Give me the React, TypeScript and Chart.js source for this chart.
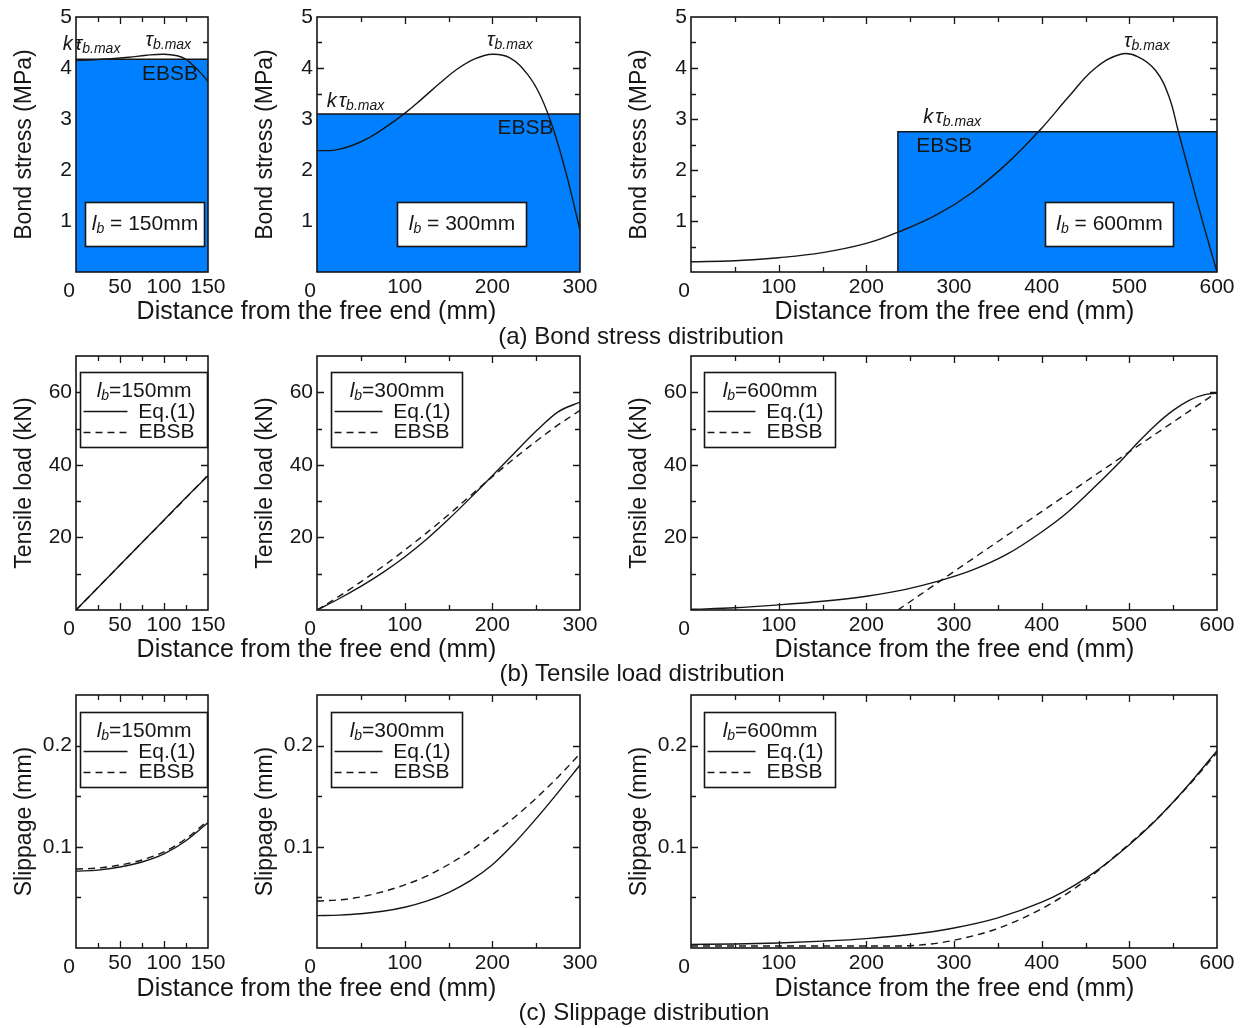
import React, { useEffect, useRef } from "react";
import { Chart, registerables } from "chart.js";
Chart.register(...registerables);

const FONT = '"Liberation Sans", Arial, Helvetica, sans-serif';
const INK = "#161616";
const BLUE = "#0080ff";

// ---------- tick labels and tick marks ----------
const X_LABELS_150 = [50, 100, 150];
const X_TICKS_150 = [25, 50, 75, 100, 125];
const X_LABELS_300 = [100, 200, 300];
const X_TICKS_300 = [50, 100, 150, 200, 250];
const X_LABELS_600 = [100, 200, 300, 400, 500, 600];
const X_TICKS_600 = [50, 100, 150, 200, 250, 300, 350, 400, 450, 500, 550];
const Y_LABELS_STRESS = [1, 2, 3, 4, 5];
const Y_TICKS_STRESS = [0.5, 1, 1.5, 2, 2.5, 3, 3.5, 4, 4.5];
const Y_LABELS_LOAD = [20, 40, 60];
const Y_TICKS_LOAD = [10, 20, 30, 40, 50, 60];
const Y_LABELS_SLIP = [0.1, 0.2];
const Y_TICKS_SLIP = [0.05, 0.1, 0.15, 0.2];

// ---------- (a) bond stress ----------
const STRESS_X_150 = [0, 20, 40, 60, 80, 100, 115, 125, 135, 143, 150];
const STRESS_EQ_150 = [4.15, 4.16, 4.18, 4.21, 4.25, 4.27, 4.24, 4.17, 4.02, 3.88, 3.73];
const EBSB_STRESS_X_150 = [0, 150];
const EBSB_STRESS_150 = [4.17, 4.17];

const STRESS_X_300 = [0, 20, 40, 60, 80, 100, 120, 140, 160, 180, 200, 220, 240, 255, 270, 285, 300];
const STRESS_EQ_300 = [2.38, 2.39, 2.48, 2.64, 2.86, 3.11, 3.4, 3.7, 3.98, 4.18, 4.27, 4.2, 3.88, 3.45, 2.78, 1.88, 0.82];
const EBSB_STRESS_X_300 = [0, 300];
const EBSB_STRESS_300 = [3.1, 3.1];

const STRESS_X_600 = [0, 50, 100, 150, 200, 236, 280, 320, 360, 400, 430, 460, 490, 510, 530, 545, 556, 570, 585, 600];
const STRESS_EQ_600 = [0.2, 0.22, 0.28, 0.38, 0.56, 0.78, 1.12, 1.55, 2.12, 2.82, 3.42, 3.98, 4.27, 4.22, 3.95, 3.45, 2.75, 1.85, 0.9, 0.0];
const EBSB_STRESS_X_600 = [236, 236, 600];
const EBSB_STRESS_600 = [0, 2.75, 2.75];

// ---------- (b) tensile load ----------
const LOAD_X_150 = [0, 25, 50, 75, 100, 125, 150];
const LOAD_EQ_150 = [0, 6.2, 12.4, 18.6, 24.8, 31.0, 37.0];
const LOAD_EBSB_150 = [0, 6.2, 12.4, 18.6, 24.7, 30.9, 37.2];

const LOAD_X_300 = [0, 25, 50, 75, 100, 125, 150, 175, 200, 225, 250, 275, 300];
const LOAD_EQ_300 = [0, 3.1, 6.5, 10.3, 14.6, 19.5, 25.0, 30.9, 37.0, 43.2, 49.3, 54.6, 57.3];
const LOAD_EBSB_300 = [0, 3.75, 7.75, 12.0, 16.5, 21.25, 26.25, 31.5, 36.75, 41.75, 46.5, 51.0, 55.0];

const LOAD_X_600 = [0, 50, 100, 150, 200, 245, 280, 320, 360, 400, 430, 460, 490, 510, 530, 550, 570, 585, 600];
const LOAD_EQ_600 = [0.2, 0.6, 1.4, 2.4, 3.8, 5.7, 7.8, 10.9, 15.3, 21.5, 27.0, 33.8, 41.0, 46.2, 51.0, 55.0, 58.0, 59.3, 59.8];
const LOAD_EBSB_X_600 = [236, 300, 400, 500, 600];
const LOAD_EBSB_600 = [0, 10.6, 27.1, 43.6, 60];

// ---------- (c) slippage ----------
const SLIP_X_150 = [0, 25, 50, 75, 100, 125, 150];
const SLIP_EQ_150 = [0.076, 0.077, 0.08, 0.085, 0.093, 0.106, 0.124];
const SLIP_EBSB_150 = [0.078, 0.079, 0.082, 0.087, 0.095, 0.108, 0.126];

const SLIP_X_300 = [0, 25, 50, 75, 100, 125, 150, 175, 200, 225, 250, 275, 300];
const SLIP_EQ_300 = [0.032, 0.0325, 0.0338, 0.0363, 0.0403, 0.0463, 0.0548, 0.0665, 0.0823, 0.1035, 0.1278, 0.1538, 0.1808];
const SLIP_EBSB_300 = [0.0465, 0.0475, 0.0505, 0.0556, 0.0623, 0.071, 0.0825, 0.096, 0.112, 0.129, 0.148, 0.169, 0.192];

const SLIP_X_600 = [0, 50, 100, 150, 200, 250, 300, 350, 400, 425, 450, 475, 500, 525, 550, 575, 600];
const SLIP_EQ_600 = [0.0035, 0.004, 0.005, 0.0068, 0.0093, 0.0133, 0.0198, 0.0298, 0.0453, 0.0558, 0.0688, 0.0843, 0.102, 0.1218, 0.1443, 0.1688, 0.195];
const SLIP_EBSB_X_600 = [0, 236, 260, 283, 302, 349, 396, 424, 452, 480, 532, 565, 600];
const SLIP_EBSB_600 = [0.002, 0.002, 0.0028, 0.005, 0.008, 0.019, 0.037, 0.051, 0.068, 0.088, 0.128, 0.158, 0.193];

// ---------- layout ----------
const ROW_T = [17, 356, 695];
const ROW_B = [272, 610, 948];
const COL_L = [76, 317, 691];
const COL_R = [208, 580, 1217];

type Series = { xs: number[]; ys: number[]; dashed?: boolean };
type Anno = { kind: "ktau" | "tau" | "ebsb"; x: number; y: number };
type LbBox = { x0: number; x1: number; y0: number; y1: number; lb: string };
type Legend = { dx: number; dy: number; w: number; h: number; lb: string };
type PanelCfg = {
  row: number;
  col: number;
  xMax: number;
  yMax: number;
  xLabels: number[];
  xTicks: number[];
  yLabels: number[];
  yTicks: number[];
  yTitle: string;
  dec: boolean;
  monotone: boolean;
  rect?: Series;
  series: Series[];
  annos?: Anno[];
  box?: LbBox;
  legend?: Legend;
};

const XL = [X_LABELS_150, X_LABELS_300, X_LABELS_600];
const XT = [X_TICKS_150, X_TICKS_300, X_TICKS_600];

const PANELS: PanelCfg[] = [
  {
    row: 0, col: 0, xMax: 150, yMax: 5, xLabels: XL[0], xTicks: XT[0], monotone: false,
    yLabels: Y_LABELS_STRESS, yTicks: Y_TICKS_STRESS, yTitle: "Bond stress (MPa)", dec: false,
    rect: { xs: EBSB_STRESS_X_150, ys: EBSB_STRESS_150 },
    series: [{ xs: STRESS_X_150, ys: STRESS_EQ_150 }],
    annos: [
      { kind: "ktau", x: -15, y: 4.47 },
      { kind: "tau", x: 79, y: 4.55 },
      { kind: "ebsb", x: 75, y: 3.88 },
    ],
    box: { x0: 10, x1: 146, y0: 0.51, y1: 1.37, lb: "150mm" },
  },
  {
    row: 0, col: 1, xMax: 300, yMax: 5, xLabels: XL[1], xTicks: XT[1], monotone: false,
    yLabels: Y_LABELS_STRESS, yTicks: Y_TICKS_STRESS, yTitle: "Bond stress (MPa)", dec: false,
    rect: { xs: EBSB_STRESS_X_300, ys: EBSB_STRESS_300 },
    series: [{ xs: STRESS_X_300, ys: STRESS_EQ_300 }],
    annos: [
      { kind: "ktau", x: 11, y: 3.35 },
      { kind: "tau", x: 194, y: 4.55 },
      { kind: "ebsb", x: 206, y: 2.82 },
    ],
    box: { x0: 91, x1: 238, y0: 0.51, y1: 1.37, lb: "300mm" },
  },
  {
    row: 0, col: 2, xMax: 600, yMax: 5, xLabels: XL[2], xTicks: XT[2], monotone: false,
    yLabels: Y_LABELS_STRESS, yTicks: Y_TICKS_STRESS, yTitle: "Bond stress (MPa)", dec: false,
    rect: { xs: EBSB_STRESS_X_600, ys: EBSB_STRESS_600 },
    series: [{ xs: STRESS_X_600, ys: STRESS_EQ_600 }],
    annos: [
      { kind: "ktau", x: 265, y: 3.04 },
      { kind: "tau", x: 494, y: 4.53 },
      { kind: "ebsb", x: 257, y: 2.47 },
    ],
    box: { x0: 404, x1: 550, y0: 0.51, y1: 1.37, lb: "600mm" },
  },
  {
    row: 1, col: 0, xMax: 150, yMax: 70, xLabels: XL[0], xTicks: XT[0], monotone: true,
    yLabels: Y_LABELS_LOAD, yTicks: Y_TICKS_LOAD, yTitle: "Tensile load (kN)", dec: false,
    series: [
      { xs: LOAD_X_150, ys: LOAD_EQ_150 },
      { xs: LOAD_X_150, ys: LOAD_EBSB_150, dashed: true },
    ],
    legend: { dx: 4, dy: 16, w: 127, h: 75, lb: "=150mm" },
  },
  {
    row: 1, col: 1, xMax: 300, yMax: 70, xLabels: XL[1], xTicks: XT[1], monotone: true,
    yLabels: Y_LABELS_LOAD, yTicks: Y_TICKS_LOAD, yTitle: "Tensile load (kN)", dec: false,
    series: [
      { xs: LOAD_X_300, ys: LOAD_EQ_300 },
      { xs: LOAD_X_300, ys: LOAD_EBSB_300, dashed: true },
    ],
    legend: { dx: 14, dy: 16, w: 131, h: 75, lb: "=300mm" },
  },
  {
    row: 1, col: 2, xMax: 600, yMax: 70, xLabels: XL[2], xTicks: XT[2], monotone: true,
    yLabels: Y_LABELS_LOAD, yTicks: Y_TICKS_LOAD, yTitle: "Tensile load (kN)", dec: false,
    series: [
      { xs: LOAD_X_600, ys: LOAD_EQ_600 },
      { xs: LOAD_EBSB_X_600, ys: LOAD_EBSB_600, dashed: true },
    ],
    legend: { dx: 13, dy: 16, w: 131, h: 75, lb: "=600mm" },
  },
  {
    row: 2, col: 0, xMax: 150, yMax: 0.25, xLabels: XL[0], xTicks: XT[0], monotone: true,
    yLabels: Y_LABELS_SLIP, yTicks: Y_TICKS_SLIP, yTitle: "Slippage (mm)", dec: true,
    series: [
      { xs: SLIP_X_150, ys: SLIP_EQ_150 },
      { xs: SLIP_X_150, ys: SLIP_EBSB_150, dashed: true },
    ],
    legend: { dx: 4, dy: 17, w: 127, h: 75, lb: "=150mm" },
  },
  {
    row: 2, col: 1, xMax: 300, yMax: 0.25, xLabels: XL[1], xTicks: XT[1], monotone: true,
    yLabels: Y_LABELS_SLIP, yTicks: Y_TICKS_SLIP, yTitle: "Slippage (mm)", dec: true,
    series: [
      { xs: SLIP_X_300, ys: SLIP_EQ_300 },
      { xs: SLIP_X_300, ys: SLIP_EBSB_300, dashed: true },
    ],
    legend: { dx: 14, dy: 17, w: 131, h: 75, lb: "=300mm" },
  },
  {
    row: 2, col: 2, xMax: 600, yMax: 0.25, xLabels: XL[2], xTicks: XT[2], monotone: true,
    yLabels: Y_LABELS_SLIP, yTicks: Y_TICKS_SLIP, yTitle: "Slippage (mm)", dec: true,
    series: [
      { xs: SLIP_X_600, ys: SLIP_EQ_600 },
      { xs: SLIP_EBSB_X_600, ys: SLIP_EBSB_600, dashed: true },
    ],
    legend: { dx: 13, dy: 17, w: 131, h: 75, lb: "=600mm" },
  },
];

const PAD_L = 70;
const PAD_T = 20;
const PAD_R = 24;
const PAD_B = 32;
const DASH = [7, 5];

type Part = { t: string; italic?: boolean; size: number; dy?: number; gap?: number };

function drawParts(ctx: CanvasRenderingContext2D, parts: Part[], x: number, y: number, align: "left" | "center" | "right") {
  let total = 0;
  const widths = parts.map((p) => {
    ctx.font = `${p.italic ? "italic " : ""}${p.size}px ${FONT}`;
    const w = ctx.measureText(p.t).width + (p.gap || 0);
    total += w;
    return w;
  });
  let cx = align === "left" ? x : align === "center" ? x - total / 2 : x - total;
  ctx.textAlign = "left";
  ctx.textBaseline = "middle";
  ctx.fillStyle = INK;
  parts.forEach((p, i) => {
    ctx.font = `${p.italic ? "italic " : ""}${p.size}px ${FONT}`;
    ctx.fillText(p.t, cx, y + (p.dy || 0));
    cx += widths[i];
  });
}

function makeFrame(p: PanelCfg) {
  return {
    id: "frame",
    beforeDatasetsDraw(chart: any) {
      const { ctx, chartArea: a, scales } = chart;
      const xs = scales.x;
      const ys = scales.y;
      ctx.save();
      ctx.strokeStyle = INK;
      ctx.lineWidth = 1.3;
      ctx.beginPath();
      for (const v of p.xTicks) {
        const px = Math.round(xs.getPixelForValue(v)) + 0.5;
        const len = p.xLabels.includes(v) ? 7 : 5;
        ctx.moveTo(px, a.bottom);
        ctx.lineTo(px, a.bottom - len);
        ctx.moveTo(px, a.top);
        ctx.lineTo(px, a.top + len);
      }
      for (const v of p.yTicks) {
        const py = Math.round(ys.getPixelForValue(v)) + 0.5;
        const len = p.yLabels.some((l) => Math.abs(l - v) < 1e-9) ? 7 : 5;
        ctx.moveTo(a.left, py);
        ctx.lineTo(a.left + len, py);
        ctx.moveTo(a.right, py);
        ctx.lineTo(a.right - len, py);
      }
      ctx.stroke();
      ctx.restore();
    },
    afterDatasetsDraw(chart: any) {
      const { ctx, chartArea: a, scales } = chart;
      const xs = scales.x;
      const ys = scales.y;
      ctx.save();
      ctx.strokeStyle = INK;
      ctx.lineWidth = 1.6;
      ctx.strokeRect(a.left, a.top, a.right - a.left, a.bottom - a.top);
      ctx.fillStyle = INK;
      ctx.font = `21px ${FONT}`;
      ctx.textAlign = "center";
      ctx.textBaseline = "middle";
      ctx.fillText("0", a.left - 7, a.bottom + 19);
      for (const an of p.annos || []) {
        const px = xs.getPixelForValue(an.x);
        const py = ys.getPixelForValue(an.y);
        if (an.kind === "ktau") {
          drawParts(ctx, [
            { t: "k", italic: true, size: 20, gap: 2 },
            { t: "τ", italic: true, size: 20 },
            { t: "b.max", italic: true, size: 14, dy: 5 },
          ], px, py, "left");
        } else if (an.kind === "tau") {
          drawParts(ctx, [
            { t: "τ", italic: true, size: 20 },
            { t: "b.max", italic: true, size: 14, dy: 5 },
          ], px, py, "left");
        } else {
          drawParts(ctx, [{ t: "EBSB", size: 21 }], px, py, "left");
        }
      }
      if (p.box) {
        const bx0 = Math.round(xs.getPixelForValue(p.box.x0)) + 0.5;
        const bx1 = Math.round(xs.getPixelForValue(p.box.x1)) + 0.5;
        const by0 = Math.round(ys.getPixelForValue(p.box.y1)) + 0.5;
        const by1 = Math.round(ys.getPixelForValue(p.box.y0)) + 0.5;
        ctx.fillStyle = "#ffffff";
        ctx.fillRect(bx0, by0, bx1 - bx0, by1 - by0);
        ctx.strokeStyle = INK;
        ctx.lineWidth = 1.6;
        ctx.strokeRect(bx0, by0, bx1 - bx0, by1 - by0);
        drawParts(ctx, [
          { t: "l", italic: true, size: 21 },
          { t: "b", italic: true, size: 14, dy: 5 },
          { t: " = " + p.box.lb, size: 21 },
        ], (bx0 + bx1) / 2, (by0 + by1) / 2, "center");
      }
      if (p.legend) {
        const lg = p.legend;
        const L = a.left + lg.dx + 0.5;
        const T = a.top + lg.dy + 0.5;
        ctx.fillStyle = "#ffffff";
        ctx.fillRect(L, T, lg.w, lg.h);
        ctx.strokeStyle = INK;
        ctx.lineWidth = 1.6;
        ctx.strokeRect(L, T, lg.w, lg.h);
        drawParts(ctx, [
          { t: "l", italic: true, size: 21 },
          { t: "b", italic: true, size: 14, dy: 5 },
          { t: lg.lb, size: 21 },
        ], L + lg.w / 2, T + 19, "center");
        const lx0 = L + 3;
        const lx1 = L + lg.w - 80;
        ctx.lineWidth = 1.4;
        ctx.beginPath();
        ctx.setLineDash([]);
        ctx.moveTo(lx0, T + 39);
        ctx.lineTo(lx1, T + 39);
        ctx.stroke();
        ctx.beginPath();
        ctx.setLineDash(DASH);
        ctx.moveTo(lx0, T + 60);
        ctx.lineTo(lx1, T + 60);
        ctx.stroke();
        ctx.setLineDash([]);
        drawParts(ctx, [{ t: "Eq.(1)", size: 21 }], L + lg.w - 12, T + 40, "right");
        drawParts(ctx, [{ t: "EBSB", size: 21 }], L + lg.w - 13, T + 60, "right");
      }
      ctx.restore();
    },
  };
}

function buildConfig(p: PanelCfg): any {
  const datasets: any[] = [];
  if (p.rect) {
    datasets.push({
      data: p.rect.xs.map((x, i) => ({ x, y: p.rect!.ys[i] })),
      borderColor: INK,
      borderWidth: 1.5,
      backgroundColor: BLUE,
      fill: "origin",
      pointRadius: 0,
      tension: 0,
      order: 2,
    });
  }
  p.series.forEach((s, k) => {
    datasets.push({
      data: s.xs.map((x, i) => ({ x, y: s.ys[i] })),
      borderColor: INK,
      borderWidth: 1.4,
      borderDash: s.dashed ? DASH : [],
      pointRadius: 0,
      fill: false,
      tension: 0.4,
      cubicInterpolationMode: p.monotone ? "monotone" : "default",
      order: k === 0 ? 0 : 1,
    });
  });
  const tickFont = { family: FONT, size: 21 };
  return {
    type: "line",
    data: { datasets },
    plugins: [makeFrame(p)],
    options: {
      animation: false,
      responsive: false,
      maintainAspectRatio: false,
      devicePixelRatio: 1,
      layout: { padding: { left: 0, top: PAD_T, right: PAD_R, bottom: 0 } },
      plugins: { legend: { display: false }, tooltip: { enabled: false } },
      events: [],
      scales: {
        x: {
          type: "linear",
          min: 0,
          max: p.xMax,
          grid: { display: false, drawTicks: false },
          border: { display: false },
          ticks: {
            font: tickFont,
            color: INK,
            padding: 3,
            autoSkip: false,
            maxRotation: 0,
            callback: (v: number) => String(v),
          },
          afterBuildTicks: (s: any) => {
            s.ticks = p.xLabels.map((v) => ({ value: v }));
          },
          afterFit: (s: any) => {
            s.height = PAD_B;
          },
        },
        y: {
          type: "linear",
          min: 0,
          max: p.yMax,
          grid: { display: false, drawTicks: false },
          border: { display: false },
          ticks: {
            font: tickFont,
            color: INK,
            padding: 4,
            callback: (v: number) => (p.dec ? v.toFixed(1) : String(v)),
          },
          afterBuildTicks: (s: any) => {
            s.ticks = p.yLabels.map((v) => ({ value: v }));
          },
          afterFit: (s: any) => {
            s.width = PAD_L;
          },
          title: {
            display: true,
            text: p.yTitle,
            color: INK,
            font: { family: FONT, size: 23 },
            padding: { top: 5, bottom: 0 },
          },
        },
      },
    },
  };
}

function Panel({ p }: { p: PanelCfg }) {
  const ref = useRef<HTMLCanvasElement>(null);
  const l = COL_L[p.col] - PAD_L;
  const t = ROW_T[p.row] - PAD_T;
  const w = COL_R[p.col] - COL_L[p.col] + PAD_L + PAD_R;
  const h = ROW_B[p.row] - ROW_T[p.row] + PAD_T + PAD_B;
  useEffect(() => {
    const chart = new Chart(ref.current as HTMLCanvasElement, buildConfig(p));
    return () => chart.destroy();
  }, []);
  return (
    <canvas
      ref={ref}
      width={w}
      height={h}
      style={{ position: "absolute", left: l, top: t, width: w, height: h }}
    />
  );
}

function Label({ text, cx, cy, size }: { text: string; cx: number; cy: number; size: number }) {
  return (
    <div
      style={{
        position: "absolute",
        left: cx - 300,
        top: cy - 15,
        width: 600,
        height: 30,
        lineHeight: "30px",
        textAlign: "center",
        fontFamily: FONT,
        fontSize: size,
        color: INK,
        whiteSpace: "nowrap",
      }}
    >
      {text}
    </div>
  );
}

const X_TITLE = "Distance from the free end (mm)";
const ROW_TITLE_Y = [310, 648, 987];
const CAPTIONS = ["(a) Bond stress distribution", "(b) Tensile load distribution", "(c) Slippage distribution"];
const CAPTION_POS = [
  [641, 336],
  [642, 673],
  [644, 1012],
];

export default function App() {
  return (
    <div
      style={{
        position: "absolute",
        left: 0,
        top: 0,
        width: 1255,
        height: 1028,
        background: "#ffffff",
        overflow: "hidden",
      }}
    >
      {PANELS.map((p, i) => (
        <Panel key={i} p={p} />
      ))}
      {ROW_TITLE_Y.map((y, i) => (
        <React.Fragment key={"t" + i}>
          <Label text={X_TITLE} cx={316.5} cy={y} size={25} />
          <Label text={X_TITLE} cx={954.5} cy={y} size={25} />
        </React.Fragment>
      ))}
      {CAPTIONS.map((c, i) => (
        <Label key={"c" + i} text={c} cx={CAPTION_POS[i][0]} cy={CAPTION_POS[i][1]} size={24} />
      ))}
    </div>
  );
}
